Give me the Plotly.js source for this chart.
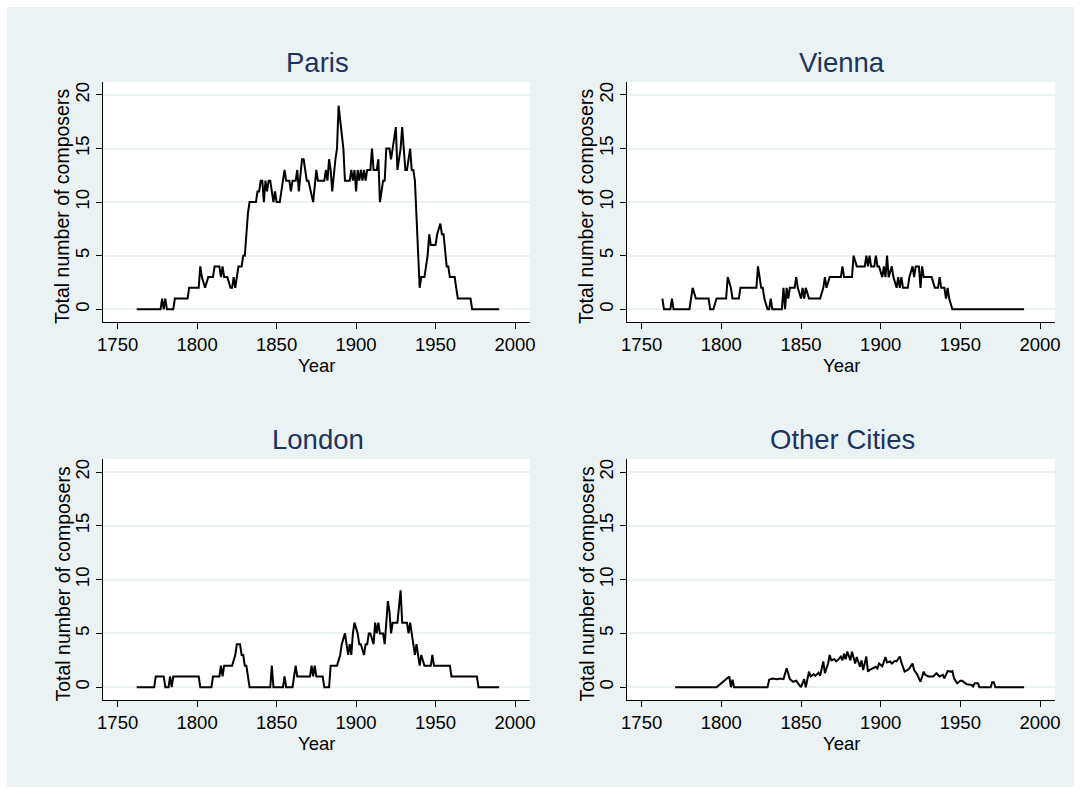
<!DOCTYPE html>
<html>
<head>
<meta charset="utf-8">
<script src="https://cdn.plot.ly/plotly-3.0.1.min.js"></script>
<style>html,body{margin:0;padding:0;background:#fff;}#chart{width:1081px;height:794px;}</style>
</head>
<body>
<div id="chart"></div>
<script>
// ---- data ----
const panelTitles = ["Paris", "Vienna", "London", "Other Cities"];
const xTickVals = [1750, 1800, 1850, 1900, 1950, 2000];
const yTickVals = [0, 5, 10, 15, 20];
const xTitle = "Year";
const yTitle = "Total number of composers";

const parisYear = [1762,1777,1778,1779,1780,1781,1785,1786,1794,1795,
  1801,1802,1803,1805,1807,1810,1811,1814,1815,1816,
  1817,1819,1821,1822,1823,1824,1826,1828,1829,1830,
  1831,1832,1833,1837,1838,1839,1840,1841,1842,1843,
  1844,1845,1846,1847,1848,1849,1850,1852,1854,1855,
  1856,1858,1859,1860,1862,1863,1864,1866,1867,1868,
  1869,1870,1873,1875,1876,1880,1881,1882,1883,1884,
  1885,1887,1888,1889,1891,1892,1893,1896,1897,1898,
  1899,1900,1901,1902,1903,1904,1905,1906,1907,1909,
  1910,1911,1913,1914,1915,1917,1918,1919,1921,1922,
  1923,1924,1925,1926,1928,1929,1930,1931,1932,1934,
  1935,1936,1937,1938,1939,1940,1941,1943,1944,1945,
  1946,1947,1950,1951,1953,1954,1955,1957,1958,1959,
  1962,1963,1964,1972,1973,1990];
const parisCount = [0,0,1,0,1,0,0,1,1,2,
  2,4,3,2,3,3,4,4,3,4,
  3,3,2,2,3,2,4,4,5,5,
  7,9,10,10,11,11,12,12,10,12,
  11,12,12,11,10,11,10,10,12,13,
  12,12,11,12,12,13,11,14,14,13,
  12,12,10,13,12,12,13,12,14,13,
  11,14,15,19,16,15,12,12,13,12,
  13,11,13,12,13,12,13,12,13,13,
  15,13,13,14,10,12,12,15,15,14,
  15,16,17,13,15,17,15,13,13,15,
  13,13,12,9,6,2,3,3,4,5,
  7,6,6,7,8,7,7,4,4,3,
  3,2,1,1,0,0];

const viennaYear = [1763,1764,1768,1769,1770,1780,1782,1784,1792,1793,
  1795,1797,1803,1804,1806,1807,1811,1812,1822,1823,
  1825,1826,1827,1829,1830,1831,1832,1838,1839,1840,
  1841,1842,1843,1846,1847,1848,1850,1851,1852,1853,
  1855,1862,1864,1865,1866,1868,1875,1876,1877,1882,
  1883,1885,1890,1891,1892,1893,1894,1896,1897,1898,
  1899,1901,1902,1903,1904,1905,1907,1908,1910,1911,
  1912,1913,1914,1917,1918,1920,1921,1922,1924,1925,
  1926,1927,1932,1934,1936,1937,1938,1940,1941,1942,
  1943,1945,1990];
const viennaCount = [1,0,0,1,0,0,2,1,1,0,
  0,1,1,3,2,1,1,2,2,4,
  2,2,1,0,0,1,0,0,2,0,
  2,1,2,2,3,2,1,2,1,2,
  1,1,2,3,2,3,3,4,3,3,
  5,4,4,5,4,5,4,4,5,4,
  4,3,4,3,5,3,4,3,2,3,
  2,3,2,2,3,4,3,4,4,2,
  4,3,3,2,2,3,2,2,1,2,
  1,0,0];

const londonYear = [1762,1773,1774,1779,1780,1782,1783,1784,1785,1801,
  1802,1809,1810,1814,1815,1816,1817,1822,1824,1825,
  1827,1828,1829,1830,1831,1832,1833,1846,1847,1848,
  1854,1855,1856,1860,1862,1863,1871,1872,1873,1874,
  1875,1878,1879,1880,1883,1884,1888,1890,1891,1893,
  1894,1895,1896,1897,1898,1899,1901,1902,1903,1905,
  1906,1907,1908,1909,1911,1912,1913,1914,1915,1917,
  1918,1920,1921,1922,1923,1926,1928,1929,1932,1933,
  1934,1936,1937,1938,1940,1941,1943,1947,1948,1949,
  1959,1960,1976,1977,1990];
const londonCount = [0,0,1,1,0,0,1,0,1,1,
  0,0,1,1,2,1,2,2,3,4,
  4,3,3,2,2,1,0,0,2,0,
  0,1,0,0,2,1,1,2,1,2,
  1,1,1,0,0,2,2,3,4,5,
  4,3,4,3,5,6,5,4,4,3,
  4,4,5,5,4,6,5,6,5,5,
  4,8,7,5,6,6,9,6,6,5,
  6,4,3,4,2,3,2,2,3,2,
  2,1,1,0,0];

const otherYear = [1771,1797,1805,1806,1807,1808,1829,1830,1832,1835,
  1837,1839,1841,1843,1845,1847,1849,1850,1852,1853,
  1855,1856,1858,1859,1861,1862,1864,1865,1867,1868,
  1869,1871,1872,1873,1875,1876,1877,1878,1879,1881,
  1882,1884,1885,1887,1888,1889,1891,1892,1893,1895,
  1897,1898,1899,1901,1903,1904,1906,1907,1909,1910,
  1912,1913,1915,1917,1918,1920,1921,1923,1924,1925,
  1927,1928,1930,1933,1935,1937,1939,1940,1942,1944,
  1945,1946,1948,1950,1951,1953,1954,1957,1958,1959,
  1961,1962,1969,1970,1971,1972,1990];
const otherCount = [0,0,1.0,0,0.7,0,0,0.7,0.8,0.75,
  0.8,0.75,1.76,0.75,0.5,0.6,0.2,0,0.75,0,
  1.45,1.0,1.2,1.05,1.35,1.05,2.4,1.3,2.2,3.0,
  2.5,2.6,2.4,2.5,2.85,2.5,3.1,2.6,3.3,2.5,
  3.3,2.2,2.8,1.9,2.5,1.6,2.85,1.45,1.6,1.75,
  1.9,1.75,2.2,1.95,2.8,2.3,2.4,2.2,2.45,2.4,
  2.85,2.3,1.45,1.6,1.75,2.2,1.6,1.15,0.85,0.5,
  1.45,1.15,1.0,1.0,1.3,1.0,1.15,0.83,1.5,1.45,
  1.5,0.83,0.37,0.6,0.6,0.37,0.28,0.22,0.06,0.37,
  0.37,0,0,0.46,0.46,0,0];

// ---- layout geometry (pixels) ----
const W = 1081, H = 794;
const FONT = "Liberation Sans, Arial, Helvetica, sans-serif";
const BG = "#EAF2F3";
const TITLE_COLOR = "#1c3360";
const panels = [
  {x0: 103, x1: 530, y0: 82,  y1: 322, xs: parisYear,  ys: parisCount},
  {x0: 627, x1: 1055, y0: 82, y1: 322, xs: viennaYear, ys: viennaCount},
  {x0: 103, x1: 530, y0: 459, y1: 700, xs: londonYear, ys: londonCount},
  {x0: 627, x1: 1055, y0: 459, y1: 700, xs: otherYear, ys: otherCount}
];
const px = v => v / W;
const py = v => 1 - v / H;

const traces = [];
const layout = {
  width: W, height: H,
  margin: {l: 0, r: 0, t: 0, b: 0},
  paper_bgcolor: BG,
  plot_bgcolor: "white",
  showlegend: false,
  font: {family: FONT, color: "black"},
  annotations: [],
  shapes: [
    {type: "rect", xref: "paper", yref: "paper", x0: 0, x1: 1, y0: py(7), y1: 1, fillcolor: "white", line: {width: 0}},
    {type: "rect", xref: "paper", yref: "paper", x0: 0, x1: 1, y0: 0, y1: py(787), fillcolor: "white", line: {width: 0}},
    {type: "rect", xref: "paper", yref: "paper", x0: 0, x1: px(7), y0: 0, y1: 1, fillcolor: "white", line: {width: 0}},
    {type: "rect", xref: "paper", yref: "paper", x0: px(1074), x1: 1, y0: 0, y1: 1, fillcolor: "white", line: {width: 0}}
  ]
};

panels.forEach((p, i) => {
  const n = i === 0 ? "" : String(i + 1);
  traces.push({
    type: "scatter", mode: "lines",
    x: p.xs, y: p.ys,
    xaxis: "x" + n, yaxis: "y" + n,
    line: {color: "black", width: 2},
    hoverinfo: "skip"
  });
  layout["xaxis" + n] = {
    domain: [px(p.x0), px(p.x1)],
    anchor: "y" + n,
    range: [1740.8, 2009.4],
    tickmode: "array", tickvals: xTickVals,
    ticks: "outside", ticklen: 6, tickwidth: 1, tickcolor: "black",
    showline: true, linecolor: "black", linewidth: 1,
    showgrid: false, zeroline: false,
    tickfont: {family: FONT, size: 18.5, color: "black"}
  };
  layout["yaxis" + n] = {
    domain: [py(p.y1), py(p.y0)],
    anchor: "x" + n,
    range: [-1.19, 21.21],
    tickmode: "array", tickvals: yTickVals,
    tickangle: -90,
    ticks: "outside", ticklen: 6, tickwidth: 1, tickcolor: "black",
    showline: true, linecolor: "black", linewidth: 1,
    showgrid: true, gridcolor: BG, gridwidth: 2,
    zeroline: false,
    tickfont: {family: FONT, size: 18.5, color: "black"}
  };
  const cx = (p.x0 + p.x1) / 2;
  const cy = (p.y0 + p.y1) / 2;
  layout.annotations.push(
    {text: panelTitles[i], xref: "paper", yref: "paper", x: px(cx + 1), y: py(p.y0 - 20),
     xanchor: "center", yanchor: "middle", showarrow: false,
     font: {family: FONT, size: 27.5, color: TITLE_COLOR}},
    {text: xTitle, xref: "paper", yref: "paper", x: px(cx), y: py(p.y1 + 43),
     xanchor: "center", yanchor: "middle", showarrow: false,
     font: {family: FONT, size: 18.5, color: "black"}},
    {text: yTitle, xref: "paper", yref: "paper", x: px(p.x0 - 41), y: py(cy + 5),
     xanchor: "center", yanchor: "middle", showarrow: false, textangle: -90,
     font: {family: FONT, size: 19.5, color: "black"}}
  );
});

Plotly.newPlot("chart", traces, layout, {displayModeBar: false, staticPlot: true});
</script>
</body>
</html>
